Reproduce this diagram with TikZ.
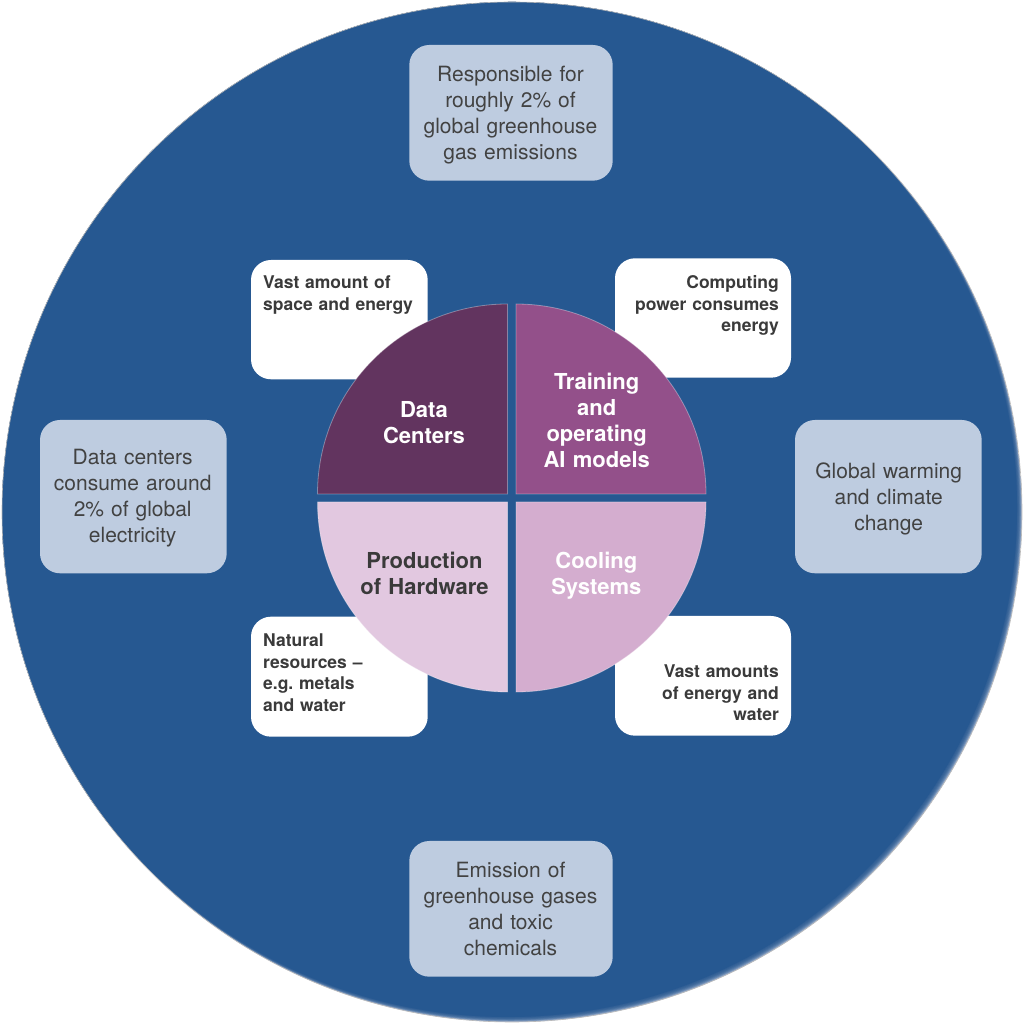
\documentclass[tikz,border=0pt]{standalone}
\usepackage{fontspec}
\setmainfont{TeX Gyre Heros}
\definecolor{bigblue}{RGB}{38,88,145}
\definecolor{rimcol}{RGB}{160,178,205}
\definecolor{lightbox}{RGB}{190,204,224}
\definecolor{dcol}{RGB}{98,52,95}
\definecolor{tcol}{RGB}{147,80,138}
\definecolor{pcol}{RGB}{226,200,224}
\definecolor{ccol}{RGB}{212,173,207}
\definecolor{darktext}{RGB}{58,58,58}
\definecolor{lighttext}{RGB}{66,66,66}
\tikzset{
  quad/.style={draw=white, draw opacity=0.35, line width=0.8pt},
  wbox/.style={fill=white, rounded corners=20pt, inner sep=0pt},
  lbox/.style={fill=lightbox, rounded corners=20pt, inner sep=0pt},
  wtext/.style={text=darktext, inner sep=0pt, text width=170pt,
    font=\bfseries\fontsize{17.5}{21.5}\selectfont},
  ltext/.style={text=lighttext, inner sep=0pt, text width=200pt, align=center,
    anchor=base, font=\fontsize{21}{26}\selectfont},
  qtext/.style={inner sep=0pt, text width=170pt, align=center, anchor=base,
    font=\bfseries\fontsize{22}{26}\selectfont}
}
\begin{document}
\begin{tikzpicture}[x=1pt,y=1pt]
\useasboundingbox (0,0) rectangle (1024,1024);
% big circle with soft rim at lower right
\begin{scope}
  \clip (512,512) circle (510);
  \fill[rimcol] (512,512) circle (510);
  \foreach \k in {1,...,8}
    \fill[bigblue, opacity=0.28] ({512-0.5*\k},{512+0.5*\k}) circle ({510-0.12*\k});
  \fill[bigblue] (508,516) circle (509);
\end{scope}
\draw[gray!55, line width=0.6pt] (512,512) circle (510);

% white boxes (behind the pie)
\node[wbox, minimum width=176.7pt, minimum height=119.3pt] (wtl) at (339.35,704.35) {};
\node[wbox, minimum width=176pt, minimum height=119.4pt] (wtr) at (703,706) {};
\node[wbox, minimum width=176.7pt, minimum height=120pt] (wbl) at (339.35,347.3) {};
\node[wbox, minimum width=176pt, minimum height=119.7pt] (wbr) at (703,348.15) {};

\node[wtext, align=left, anchor=base west] (ttl) at (263,735) {Vast amount of\\space and energy};
\node[wtext, align=right, anchor=base east] (ttr) at (779,735) {Computing\\power consumes\\energy};
\node[wtext, align=left, anchor=base west] (tbl) at (263,377) {Natural\\resources --\\e.g.\ metals\\and water};
\node[wtext, align=right, anchor=base east] (tbr) at (779,346) {Vast amounts\\of energy and\\water};

% quadrants
\fill[dcol] (507.5,530) -- ++(-190,0) arc[start angle=180, end angle=90, radius=190] -- cycle;
\draw[quad] (507.5,530) -- ++(-190,0) arc[start angle=180, end angle=90, radius=190] -- cycle;
\fill[tcol] (516,530) -- ++(0,190) arc[start angle=90, end angle=0, radius=190] -- cycle;
\draw[quad] (516,530) -- ++(0,190) arc[start angle=90, end angle=0, radius=190] -- cycle;
\fill[pcol] (507.5,522) -- ++(-190,0) arc[start angle=180, end angle=270, radius=190] -- cycle;
\draw[quad] (507.5,522) -- ++(-190,0) arc[start angle=180, end angle=270, radius=190] -- cycle;
\fill[ccol] (516,522) -- ++(0,-190) arc[start angle=270, end angle=360, radius=190] -- cycle;
\draw[quad] (516,522) -- ++(0,-190) arc[start angle=270, end angle=360, radius=190] -- cycle;

\node[qtext, text=white] (qdc) at (424,606.3) {Data\\Centers};
\node[qtext, text=white] (qtr) at (596.7,634) {Training\\and\\operating\\AI models};
\node[qtext, text=darktext] (qph) at (424.5,455.7) {Production\\of Hardware};
\node[qtext, text=white] (qcs) at (596.3,455.7) {Cooling\\Systems};

% light boxes
\node[lbox, minimum width=203.4pt, minimum height=135.7pt] (ltop) at (511,911.15) {};
\node[lbox, minimum width=186.7pt, minimum height=153.3pt] (lleft) at (133.35,527.35) {};
\node[lbox, minimum width=186.7pt, minimum height=153.3pt] (lright) at (888.35,527.35) {};
\node[lbox, minimum width=203.4pt, minimum height=135.7pt] (lbot) at (511,115.15) {};

\node[ltext] (xtop) at (510.5,942) {Responsible for\\roughly 2\% of\\global greenhouse\\gas emissions};
\node[ltext] (xleft) at (132.7,559) {Data centers\\consume around\\2\% of global\\electricity};
\node[ltext] (xright) at (888.7,545.7) {Global warming\\and climate\\change};
\node[ltext] (xbot) at (510.5,146.3) {Emission of\\greenhouse gases\\and toxic\\chemicals};
\end{tikzpicture}
\end{document}
